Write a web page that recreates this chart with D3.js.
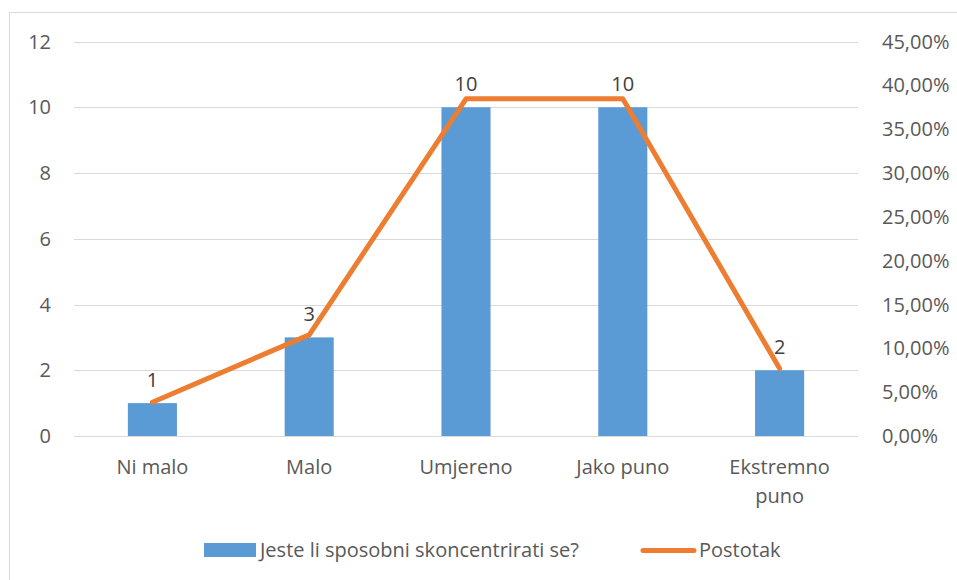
<!DOCTYPE html>
<meta charset="utf-8">
<style>
body { margin: 0; background: #fff; }
svg text { font-family: "Open Sans", sans-serif; fill: #595959; }
</style>
<svg width="957" height="580"></svg>
<script src="https://d3js.org/d3.v7.min.js"></script>
<script>
var categories = ["Ni malo", "Malo", "Umjereno", "Jako puno", "Ekstremno puno"];
var counts = [1, 3, 10, 10, 2];
var percents = [0.0385, 0.1154, 0.3846, 0.3846, 0.0769];
var leftTicks = [0, 2, 4, 6, 8, 10, 12];
var rightTicks = [0, 0.05, 0.10, 0.15, 0.20, 0.25, 0.30, 0.35, 0.40, 0.45];
var barName = "Jeste li sposobni skoncentrirati se?";
var lineName = "Postotak";

var svg = d3.select("svg"),
    plotL = 74, plotR = 858, plotT = 41.5, plotB = 436;

// chart border (runs off the page right/bottom)
svg.append("rect").attr("x", 9.5).attr("y", 12.5).attr("width", 960).attr("height", 600)
  .attr("fill", "none").attr("stroke", "#d9d9d9");

var x = d3.scaleBand().domain(categories).range([plotL, plotR]).paddingInner(0.687).paddingOuter(0.3435);
var y = d3.scaleLinear().domain([0, 12]).range([plotB, plotT]);
var y2 = d3.scaleLinear().domain([0, 0.45]).range([plotB, plotT]);

// gridlines
svg.append("g").selectAll("line").data(leftTicks).join("line")
  .attr("x1", plotL).attr("x2", plotR)
  .attr("y1", function(d) { return Math.round(y(d)) + 0.5; })
  .attr("y2", function(d) { return Math.round(y(d)) + 0.5; })
  .attr("stroke", "#d9d9d9").attr("stroke-width", 1.2);

// left axis labels
svg.append("g").selectAll("text").data(leftTicks).join("text")
  .attr("x", 51).attr("y", function(d) { return y(d); }).attr("dy", "0.35em")
  .attr("text-anchor", "end").style("font-size", "20px").text(function(d) { return d; });

// right axis labels
var fmt = function(d) { return (d * 100).toFixed(2).replace(".", ",") + "%"; };
svg.append("g").selectAll("text").data(rightTicks).join("text")
  .attr("x", 882).attr("y", function(d) { return y2(d); }).attr("dy", "0.35em")
  .attr("text-anchor", "start").style("font-size", "20px").text(fmt);

// bars
svg.append("g").selectAll("rect").data(counts).join("rect")
  .attr("x", function(d, i) { return x(categories[i]); })
  .attr("width", x.bandwidth())
  .attr("y", function(d) { return y(d); })
  .attr("height", function(d) { return y(0) - y(d); })
  .attr("fill", "#5b9bd5");

// line
var line = d3.line()
  .x(function(d, i) { return x(categories[i]) + x.bandwidth() / 2; })
  .y(function(d) { return y2(d); });
svg.append("path").datum(percents).attr("d", line)
  .attr("fill", "none").attr("stroke", "#ed7d31").attr("stroke-width", 5)
  .attr("stroke-linejoin", "round").attr("stroke-linecap", "round");

// data labels
svg.append("g").selectAll("text").data(counts).join("text")
  .attr("x", function(d, i) { return x(categories[i]) + x.bandwidth() / 2; })
  .attr("y", function(d) { return y(d) - 16; })
  .attr("text-anchor", "middle").style("font-size", "20px").style("fill", "#404040")
  .text(function(d) { return d; });

// category labels (wrap long one)
var cat = svg.append("g").selectAll("text").data(categories).join("text")
  .attr("x", function(d) { return x(d) + x.bandwidth() / 2; })
  .attr("y", 474).attr("text-anchor", "middle").style("font-size", "20px");
cat.each(function(d) {
  var t = d3.select(this), cx = x(d) + x.bandwidth() / 2;
  var words = d === "Ekstremno puno" ? ["Ekstremno", "puno"] : [d];
  words.forEach(function(w, k) {
    t.append("tspan").attr("x", cx).attr("dy", k ? 29 : 0).text(w);
  });
});

// legend
var lg = svg.append("g");
lg.append("rect").attr("x", 204).attr("y", 543).attr("width", 52).attr("height", 14).attr("fill", "#5b9bd5");
lg.append("text").attr("x", 260).attr("y", 557).style("font-size", "20px").text(barName);
lg.append("line").attr("x1", 643).attr("x2", 694).attr("y1", 550.5).attr("y2", 550.5)
  .attr("stroke", "#ed7d31").attr("stroke-width", 5).attr("stroke-linecap", "round");
lg.append("text").attr("x", 699).attr("y", 557).style("font-size", "20px").text(lineName);
</script>
